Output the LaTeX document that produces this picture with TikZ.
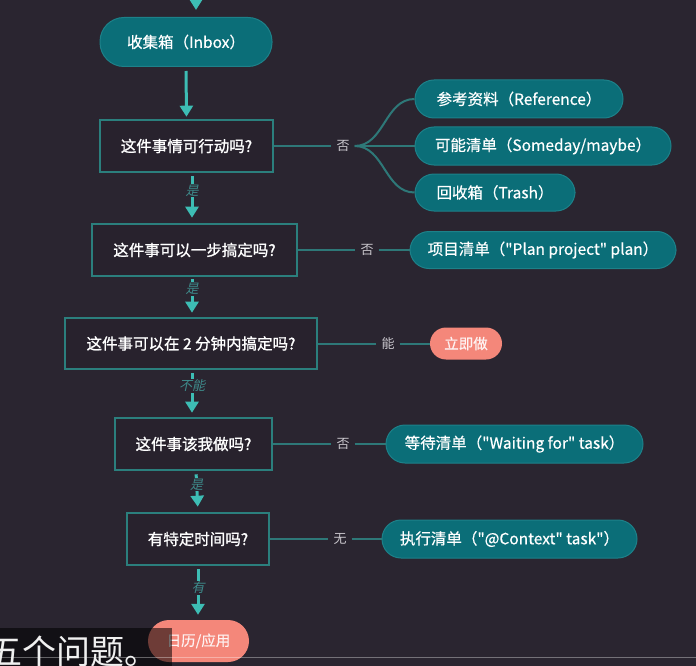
\documentclass[tikz,border=0pt]{standalone}
\usepackage{fontspec}
\setmainfont{Noto Sans CJK SC}
\newfontfamily\slantfont[FakeSlant=0.22]{Noto Sans CJK SC}
\newfontfamily\heavyfont[FakeBold=1.2]{Noto Sans CJK SC}
\newfontfamily\mediumfont[FakeBold=0.5]{Noto Sans CJK SC}
\usetikzlibrary{positioning,arrows.meta}
\definecolor{bg}{HTML}{2A2530}
\definecolor{boxfill}{HTML}{28222D}
\definecolor{boxline}{HTML}{2B7F7D}
\definecolor{pillfill}{HTML}{0B6E78}
\definecolor{pillline}{HTML}{1D8189}
\definecolor{salmon}{HTML}{F4877A}
\definecolor{flowc}{HTML}{3DBDB4}
\definecolor{linkc}{HTML}{2E7878}
\definecolor{answerc}{HTML}{C9C6CC}
\definecolor{yesc}{HTML}{3E8A8A}
\tikzset{
  question/.style={draw=boxline, line width=2.6pt, fill=boxfill, text=white,
    minimum height=52pt, inner sep=0pt, font=\heavyfont\fontsize{15.5}{17}\selectfont},
  bucket/.style={draw=pillline, line width=1pt, fill=pillfill, text=white,
    rounded corners=19pt, minimum height=38pt, inner sep=0pt,
    font=\mediumfont\fontsize{15.5}{17}\selectfont},
  doit/.style={fill=salmon, text=white!90!salmon, rounded corners=16pt,
    minimum height=32pt, inner sep=0pt, font=\mediumfont\fontsize{14.5}{16}\selectfont},
  answer/.style={text=answerc, inner sep=5pt, font=\fontsize{13}{15}\selectfont},
  flow/.style={draw=flowc, line width=3pt, -{Triangle[width=13pt,length=11pt]}},
  yes/.style={fill=bg, text=yesc, inner sep=1pt, font=\slantfont\fontsize{13}{15}\selectfont},
  link/.style={draw=linkc, line width=2pt},
}
\begin{document}
\begin{tikzpicture}[x=1pt, y=-1pt]
  \useasboundingbox (0,0) rectangle (696,666);
  \clip (0,0) rectangle (696,666);
  \fill[bg] (0,0) rectangle (696,666);

  % Nodes
  \coordinate (top) at (196,-20);
  \node[bucket, minimum width=172pt, rounded corners=24pt, minimum height=49pt] (inbox) at (186,42) {收集箱（Inbox）};
  \node[question, minimum width=173pt] (q1) at (186.5,146) {这件事情可行动吗?\hspace{6pt}};
  \node[question, minimum width=205pt] (q2) at (194.5,250) {这件事可以一步搞定吗?\hspace{4pt}};
  \node[question, minimum width=252pt, minimum height=51pt] (q3) at (191,343.5) {这件事可以在 2 分钟内搞定吗?\hspace{8pt}};
  \node[question, minimum width=157pt] (q4) at (193.5,444) {这件事该我做吗?\hspace{4pt}};
  \node[question, minimum width=142pt] (q5) at (198,539) {有特定时间吗?\hspace{4pt}};

  \node[answer] (no1) at (343,146) {否};
  \node[answer] (no2) at (367,250) {否};
  \node[answer] (can) at (388,343.5) {能};
  \node[answer] (no4) at (343,444) {否};
  \node[answer] (none) at (340,539) {无};

  \node[bucket, minimum width=208pt] (ref) at (519,99) {参考资料（Reference）};
  \node[bucket, minimum width=256pt] (someday) at (543,146) {可能清单（Someday/maybe）};
  \node[bucket, minimum width=160pt, minimum height=37pt] (trash) at (495,192.5) {回收箱（Trash）};
  \node[bucket, minimum width=266pt, minimum height=37pt] (project) at (543,250) {项目清单（"Plan project" plan）};
  \node[doit, minimum width=72pt] (now) at (466,343.5) {立即做};
  \node[bucket, minimum width=257pt] (waiting) at (514.5,444) {等待清单（"Waiting for" task）};
  \node[bucket, minimum width=255pt] (context) at (509.5,539) {执行清单（"@Context" task"）};
  \node[doit, minimum width=101pt, minimum height=42pt, rounded corners=21pt] (calendar) at (198.5,641) {日历/应用};

  % Arrows
  \draw[flow, shorten >=7pt] (top) -- (top |- inbox.north);
  \draw[flow, shorten <=4pt, shorten >=2pt] (inbox.south) -- (q1.north);
  \draw[flow, shorten <=3pt, shorten >=5pt] ([xshift=5.5pt]q1.south) -- node[yes, pos=0.35] {是} ([xshift=-2.5pt]q2.north);
  \draw[flow, shorten <=2pt, shorten >=4pt] ([xshift=-2.5pt]q2.south) -- node[yes, pos=0.3] {是} ([xshift=1pt]q3.north);
  \draw[flow, shorten <=3pt, shorten >=4pt] ([xshift=1pt]q3.south) -- node[yes, pos=0.33] {不能} ([xshift=-1.5pt]q4.north);
  \draw[flow, shorten <=3pt, shorten >=5pt] ([xshift=2.5pt]q4.south) -- node[yes, pos=0.33] {是} (q5.north);
  \draw[flow, shorten <=3pt, shorten >=5pt] (q5.south) -- node[yes, pos=0.4] {有} ([xshift=-0.5pt]calendar.north);

  % Links
  \draw[link] (q1.east) -- (no1);
  \draw[link] (no1.east) to[out=0, in=180] (ref.west);
  \draw[link] (no1.east) -- (someday.west);
  \draw[link] (no1.east) to[out=0, in=180] (trash.west);
  \draw[link] (q2.east) -- (no2) -- (project.west);
  \draw[link] (q3.east) -- (can) -- (now.west);
  \draw[link] (q4.east) -- (no4) -- (waiting.west);
  \draw[link] (q5.east) -- (none) -- (context.west);

  % Subtitle
  \fill[black, opacity=0.55] (0,628) rectangle (172,666);
  \draw[white, opacity=0.35, line width=1pt] (0,657) -- (696,657);
  \node[anchor=west, text=white!88!gray, inner sep=0pt, font=\fontsize{34}{36}\selectfont] (subtitle) at (-12,652) {五个问题。};
\end{tikzpicture}
\end{document}
